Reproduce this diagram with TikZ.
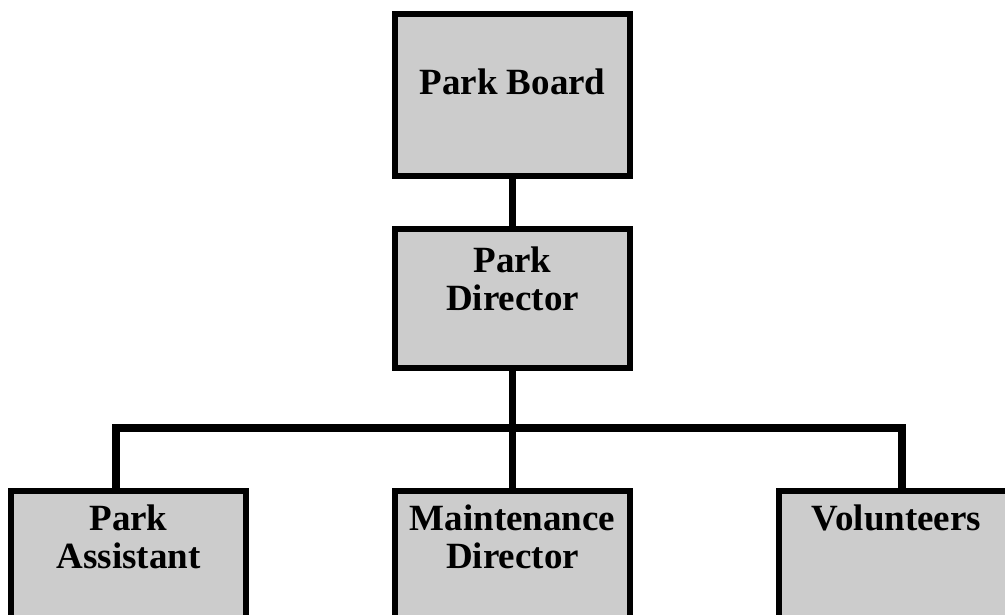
\documentclass[tikz,border=0pt]{standalone}
\usepackage{fontspec}
\setmainfont{Liberation Serif}
\definecolor{boxfill}{RGB}{204,204,204}
\begin{document}
\begin{tikzpicture}[x=1pt,y=-1pt,
  orgbox/.style={draw=black, fill=boxfill, line width=6pt, rectangle, minimum width=235pt, inner sep=0pt},
  lbl/.style={anchor=base, align=center, font=\fontsize{37}{38}\selectfont\bfseries, inner sep=0pt},
  conn/.style={draw=black, line width=7.5pt, line join=miter}]
\useasboundingbox (0,0) rectangle (1005,615);
\clip (0,0) rectangle (1005,615);
% boxes
\node[orgbox, minimum height=162pt] (pb) at (512.5,95) {};
\node[orgbox, minimum height=139pt] (pd) at (512.5,298.5) {};
\node[orgbox, minimum height=200pt, anchor=north] (pa) at (128.5,488) {};
\node[orgbox, minimum height=200pt, anchor=north] (md) at (512.5,488) {};
\node[orgbox, minimum height=200pt, anchor=north] (vol) at (896.5,488) {};
% connectors
\coordinate (jA) at (116,428);
\coordinate (jV) at (902,428);
\draw[conn] (pb.south) -- (pd.north);
\draw[conn] (pd.south) -- (md.north);
\draw[conn] (jA |- pa.north) -- (jA) -- (jV) -- (jV |- vol.north);
% labels (base anchor = baseline of the last line)
\node[lbl] (tpb) at (512.5,95) {Park Board};
\node[lbl] (tpd) at (512.5,310) {Park\\Director};
\node[lbl] (tpa) at (128.5,568) {Park\\Assistant};
\node[lbl] (tmd) at (512.5,568) {Maintenance\\Director};
\node[lbl] (tvol) at (896.5,530) {Volunteers};
\end{tikzpicture}
\end{document}
